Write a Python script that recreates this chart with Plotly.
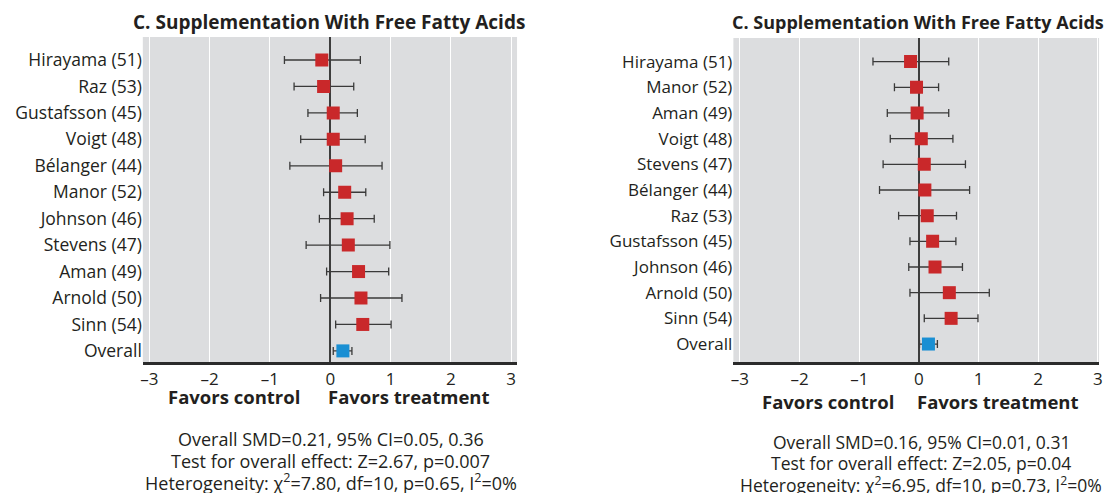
import plotly.graph_objects as go

# ---------------- data ----------------
left_studies = ["Hirayama (51)", "Raz (53)", "Gustafsson (45)", "Voigt (48)", "Bélanger (44)",
                "Manor (52)", "Johnson (46)", "Stevens (47)", "Aman (49)", "Arnold (50)",
                "Sinn (54)", "Overall"]
left_smd = [-0.14, -0.11, 0.05, 0.05, 0.09, 0.24, 0.28, 0.30, 0.47, 0.51, 0.54, 0.21]
left_lo = [-0.76, -0.60, -0.37, -0.49, -0.67, -0.11, -0.18, -0.40, -0.06, -0.16, 0.09, 0.05]
left_hi = [0.50, 0.39, 0.45, 0.58, 0.86, 0.59, 0.73, 0.99, 0.97, 1.19, 1.01, 0.36]

right_studies = ["Hirayama (51)", "Manor (52)", "Aman (49)", "Voigt (48)", "Stevens (47)",
                 "Bélanger (44)", "Raz (53)", "Gustafsson (45)", "Johnson (46)", "Arnold (50)",
                 "Sinn (54)", "Overall"]
right_smd = [-0.14, -0.04, -0.03, 0.04, 0.09, 0.10, 0.14, 0.23, 0.27, 0.51, 0.54, 0.16]
right_lo = [-0.77, -0.41, -0.53, -0.48, -0.60, -0.66, -0.34, -0.15, -0.17, -0.15, 0.09, 0.01]
right_hi = [0.50, 0.33, 0.50, 0.57, 0.78, 0.85, 0.63, 0.62, 0.73, 1.18, 0.99, 0.31]

tick_vals = [-3, -2, -1, 0, 1, 2, 3]
tick_text = ["\u20133", "\u20132", "\u20131", "0", "1", "2", "3"]

title_text = "C. Supplementation With Free Fatty Acids"
left_stats = ["Overall SMD=0.21, 95% CI=0.05, 0.36",
              "Test for overall effect: Z=2.67, p=0.007",
              "Heterogeneity: χ<sup>2</sup>=7.80, df=10, p=0.65, I<sup>2</sup>=0%"]
right_stats = ["Overall SMD=0.16, 95% CI=0.01, 0.31",
               "Test for overall effect: Z=2.05, p=0.04",
               "Heterogeneity: χ<sup>2</sup>=6.95, df=10, p=0.73, I<sup>2</sup>=0%"]

# ---------------- style ----------------
W, H = 1113, 493
FONT = "Open Sans"
TXT = "#231f20"
RED = "#c9282a"
BLUE = "#1a8fd3"
BG = "#dcdddf"

def px_x(p):
    return p / W

def px_y(p):
    return 1 - p / H

fig = go.Figure()

panels = [
    dict(studies=left_studies, smd=left_smd, lo=left_lo, hi=left_hi, xa="x", ya="y",
         xdom=[px_x(140.7), px_x(517.3)], ydom=[px_y(362), px_y(37)],
         xr=[-3.11, 3.10], yr=[11.42, -0.87], stats=left_stats,
         tcx=328, tsize=19, lsize=17.5, ssize=18,
         ctrl=232, treat=409, fav_y=396, stat_cx=330, stat_y=[438.5, 460.5, 482]),
    dict(studies=right_studies, smd=right_smd, lo=right_lo, hi=right_hi, xa="x2", ya="y2",
         xdom=[px_x(735), px_x(1103)], ydom=[px_y(362), px_y(38)],
         xr=[-3.11, 3.02], yr=[11.7, -0.92], stats=right_stats,
         tcx=921, tsize=18, lsize=17, ssize=17.5,
         ctrl=830, treat=1001, fav_y=401, stat_cx=924, stat_y=[442, 463, 484]),
]

for i, p in enumerate(panels):
    n = len(p["studies"])
    ys = list(range(n))
    colors = [RED] * (n - 1) + [BLUE]
    fig.add_trace(go.Scatter(
        x=p["smd"], y=ys, mode="markers",
        marker=dict(symbol="square", size=13, color=colors, line=dict(width=0)),
        error_x=dict(type="data", symmetric=False,
                     array=[h - m for h, m in zip(p["hi"], p["smd"])],
                     arrayminus=[m - l for m, l in zip(p["smd"], p["lo"])],
                     color="#3a3a3a", thickness=1.3, width=4),
        xaxis=p["xa"], yaxis=p["ya"], showlegend=False, hoverinfo="skip"))

    sfx = "" if i == 0 else "2"
    fig.update_layout(**{
        "xaxis" + sfx: dict(domain=p["xdom"], range=p["xr"], anchor=p["ya"],
                            tickvals=tick_vals, ticktext=tick_text,
                            showgrid=True, gridcolor="white", gridwidth=1.3,
                            zeroline=True, zerolinecolor="#3d3d3d", zerolinewidth=1.6,
                            showline=True, linecolor="#2b2b2b", linewidth=2.5,
                            ticks="", tickfont=dict(family=FONT, size=17, color=TXT),
                            fixedrange=True),
        "yaxis" + sfx: dict(domain=p["ydom"], range=p["yr"], anchor=p["xa"],
                            tickvals=ys, ticktext=p["studies"],
                            showgrid=False, zeroline=False, showline=False, ticks="",
                            tickfont=dict(family=FONT, size=p["lsize"], color=TXT),
                            fixedrange=True),
    })

    fig.add_annotation(text="<b>" + title_text + "</b>", xref="paper", yref="paper",
                       x=px_x(p["tcx"]), y=px_y(22), showarrow=False,
                       font=dict(family=FONT, size=p["tsize"], color=TXT),
                       xanchor="center", yanchor="middle")
    fig.add_annotation(text="<b>Favors control</b>", xref="paper", yref="paper",
                       x=px_x(p["ctrl"]), y=px_y(p["fav_y"]), showarrow=False,
                       font=dict(family=FONT, size=18.5, color=TXT),
                       xanchor="center", yanchor="middle")
    fig.add_annotation(text="<b>Favors treatment</b>", xref="paper", yref="paper",
                       x=px_x(p["treat"]), y=px_y(p["fav_y"]), showarrow=False,
                       font=dict(family=FONT, size=18.5, color=TXT),
                       xanchor="center", yanchor="middle")
    for line, yy in zip(p["stats"], p["stat_y"]):
        fig.add_annotation(text=line, xref="paper", yref="paper",
                           x=px_x(p["stat_cx"]), y=px_y(yy), showarrow=False,
                           font=dict(family=FONT, size=p["ssize"], color=TXT),
                           xanchor="center", yanchor="middle")

fig.update_layout(width=W, height=H, margin=dict(l=0, r=0, t=0, b=0),
                  paper_bgcolor="white", plot_bgcolor=BG,
                  font=dict(family=FONT, color=TXT))

fig.write_html("out.html", config={"displayModeBar": False})
